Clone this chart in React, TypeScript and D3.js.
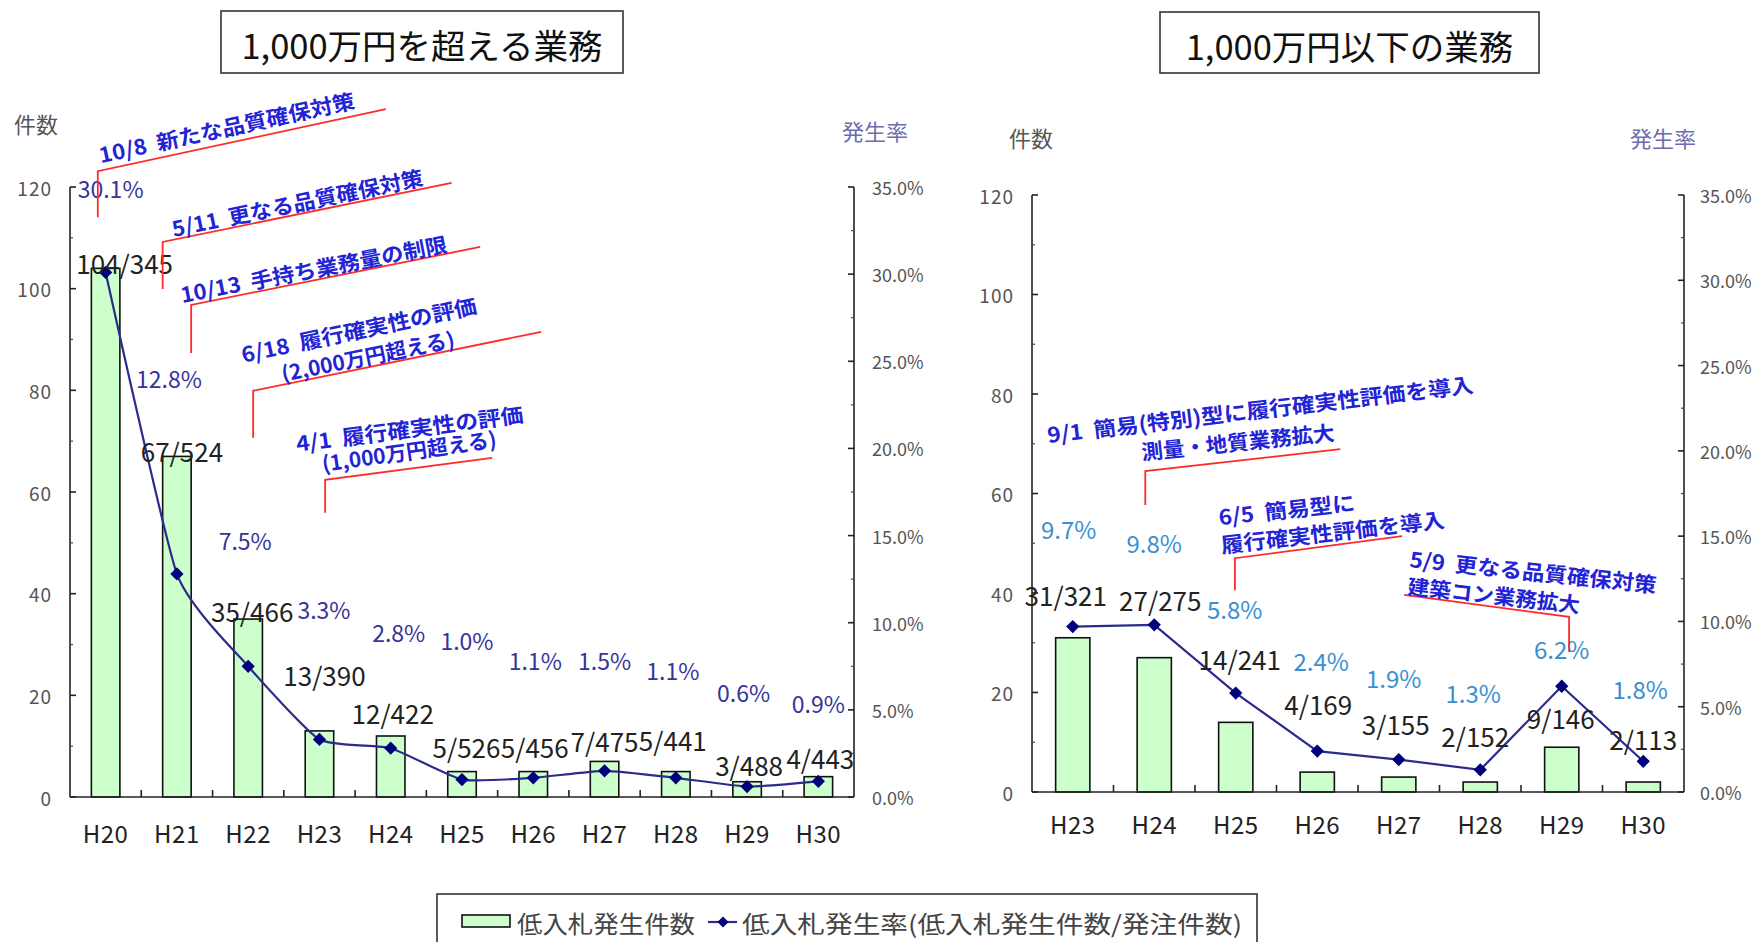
import React from 'react';
import * as d3 from 'd3';

// ---------- data ----------
const leftCats = ['H20', 'H21', 'H22', 'H23', 'H24', 'H25', 'H26', 'H27', 'H28', 'H29', 'H30'];
const leftCounts = [104, 67, 35, 13, 12, 5, 5, 7, 5, 3, 4];
const leftOrders = [345, 524, 466, 390, 422, 526, 456, 475, 441, 488, 443];
const leftRates = [30.1, 12.8, 7.5, 3.3, 2.8, 1.0, 1.1, 1.5, 1.1, 0.6, 0.9];

const rightCats = ['H23', 'H24', 'H25', 'H26', 'H27', 'H28', 'H29', 'H30'];
const rightCounts = [31, 27, 14, 4, 3, 2, 9, 2];
const rightOrders = [321, 275, 241, 169, 155, 152, 146, 113];
const rightRates = [9.7, 9.8, 5.8, 2.4, 1.9, 1.3, 6.2, 1.8];

const countTicks = [0, 20, 40, 60, 80, 100, 120];
const rateTicks = [0, 5, 10, 15, 20, 25, 30, 35];

const titleLeft = '1,000万円を超える業務';
const titleRight = '1,000万円以下の業務';
const legendBar = '低入札発生件数';
const legendLine = '低入札発生率(低入札発生件数/発注件数)';

// ---------- layout (label offsets in px, not data) ----------
const leftCountOffsets = [[19, -6], [5, -6], [4, -9], [5, -56], [2, -24], [4.5, -25], [1.5, -25], [0, -21], [-3, -32], [2, -17], [2, -19]];
const leftRateOffsets = [[5, -84], [-8, -196], [-3, -126], [4.5, -130], [8, -116], [5, -140], [2, -118], [0, -111], [-3, -108], [-3.5, -94.5], [0, -78]];
const rightCountOffsets = [[-7, -43], [6, -58], [4, -64], [1, -69], [-3, -54], [-5, -47], [-1, -30], [0, -44]];
const rightRateOffsets = [[-4, -98], [0, -82], [-1, -85], [4, -91], [-5, -82], [-7, -77], [0, -38], [-3, -73]];

type AnnText = { t: string; ox: number; oy: number; len: number; angle: number };
type Ann = { cat: number; frac: number; cornerV: number; vLen: number; dx: number; dy: number; texts: AnnText[] };

const leftAnns: Ann[] = [
  { cat: 0, frac: 0.39, cornerV: 123.1, vLen: 46, dx: 288, dy: -62, texts: [{ t: '10/8  新たな品質確保対策', ox: 3, oy: -8, len: 261, angle: -12.2 }] },
  { cat: 1, frac: 0.30, cornerV: 109.2, vLen: 47, dx: 289, dy: -59, texts: [{ t: '5/11  更なる品質確保対策', ox: 11, oy: -5, len: 256, angle: -11.7 }] },
  { cat: 1, frac: 0.70, cornerV: 96.8, vLen: 48, dx: 289, dy: -58, texts: [{ t: '10/13  手持ち業務量の制限', ox: -9, oy: -2, len: 271, angle: -10.9 }] },
  { cat: 2, frac: 0.57, cornerV: 79.9, vLen: 47, dx: 288, dy: -59, texts: [
    { t: '6/18  履行確実性の評価', ox: -10, oy: -28, len: 240, angle: -12 },
    { t: '(2,000万円超える)', ox: 30, oy: -9, len: 176, angle: -11.5 }] },
  { cat: 3, frac: 0.58, cornerV: 62.4, vLen: 33, dx: 167, dy: -22, texts: [
    { t: '4/1  履行確実性の評価', ox: -28, oy: -28, len: 229, angle: -7.5 },
    { t: '(1,000万円超える)', ox: -2, oy: -8, len: 176, angle: -8.2 }] },
];

const rightAnns: Ann[] = [
  { cat: 1, frac: 0.39, cornerV: 64.5, vLen: 34, dx: 195, dy: -22, texts: [
    { t: '9/1  簡易(特別)型に履行確実性評価を導入', ox: -97, oy: -28, len: 429, angle: -6.8 },
    { t: '測量・地質業務拡大', ox: -3, oy: -11, len: 194, angle: -5.9 }] },
  { cat: 2, frac: 0.49, cornerV: 47.0, vLen: 32, dx: 167, dy: -22, texts: [
    { t: '6/5  簡易型に', ox: -15.5, oy: -33, len: 137, angle: -6.3 },
    { t: '履行確実性評価を導入', ox: -13, oy: -5, len: 225, angle: -6.6 }] },
  { cat: 6, frac: 0.59, cornerV: 35.2, vLen: 35, dx: -165, dy: -22, texts: [
    { t: '5/9  更なる品質確保対策', ox: -160, oy: -50, len: 248, angle: 6 },
    { t: '建築コン業務拡大', ox: -162, oy: -23, len: 173, angle: 6.3 }] },
];

const FONT = "'Noto Sans CJK JP', 'Noto Sans', sans-serif";
const BAR_FILL = '#ccffcc';
const LINE_COLOR = '#2b2b8c';
const MARK_COLOR = '#00007a';
const ANN_BLUE = '#2323d6';
const ANN_RED = '#ff2a2a';

type PanelProps = {
  cats: string[]; counts: number[]; orders: number[]; rates: number[];
  x0: number; x1: number; y0: number; y1: number;
  smooth: boolean; rateColor: string; rateFont: number;
  countOffsets: number[][]; rateOffsets: number[][];
  barRatio: number; anns: Ann[];
  title: string; titleBox: [number, number, number, number];
  kensuPos: [number, number]; ratePos: [number, number];
  xLabelDy: number; rightLabelGap: number;
};

function Panel(p: PanelProps) {
  const x = d3.scaleBand<string>().domain(p.cats).range([p.x0, p.x1]);
  const yC = d3.scaleLinear().domain([0, 120]).range([p.y0, p.y1]);
  const yR = d3.scaleLinear().domain([0, 35]).range([p.y0, p.y1]);
  const bw = x.bandwidth();
  const cx = (c: string) => (x(c) as number) + bw / 2;

  const pts: [number, number][] = p.cats.map((c, i) => [cx(c), yR(p.rates[i])]);
  const line = d3.line<[number, number]>().curve(p.smooth ? d3.curveCardinal.tension(0.5) : d3.curveLinear);
  const diamond = d3.symbol().type(d3.symbolSquare).size(88)();

  const minorC = d3.range(10, 120, 20);
  const minorR = d3.range(2.5, 35, 5);

  const [tx, ty, tw, th] = p.titleBox;

  return (
    <g>
      {/* title */}
      <rect x={tx} y={ty} width={tw} height={th} fill="#fff" stroke="#333" strokeWidth={1.6} />
      <text x={tx + tw / 2} y={ty + th / 2 + 2} textAnchor="middle" dominantBaseline="central" fontSize={34.5} fontWeight={400} fill="#111" fontFamily={FONT}>{p.title}</text>

      {/* axis titles */}
      <text x={p.kensuPos[0]} y={p.kensuPos[1]} dominantBaseline="central" fontSize={22} fill="#555" fontFamily={FONT}>件数</text>
      <text x={p.ratePos[0]} y={p.ratePos[1]} dominantBaseline="central" fontSize={22} fill="#6c6cae" fontFamily={FONT}>発生率</text>

      {/* bars */}
      {p.cats.map((c, i) => (
        <rect key={c} x={cx(c) - (bw * p.barRatio) / 2} y={yC(p.counts[i])} width={bw * p.barRatio} height={p.y0 - yC(p.counts[i])}
          fill={BAR_FILL} stroke="#111" strokeWidth={1.6} />
      ))}

      {/* line */}
      <path d={line(pts) || ''} fill="none" stroke={LINE_COLOR} strokeWidth={2.2} />
      {pts.map((pt, i) => (
        <path key={i} d={diamond || ''} transform={`translate(${pt[0]},${pt[1]}) rotate(45)`} fill={MARK_COLOR} />
      ))}

      {/* count labels */}
      {p.cats.map((c, i) => (
        <text key={'c' + c} x={cx(c) + p.countOffsets[i][0]} y={yC(p.counts[i]) + p.countOffsets[i][1]} textAnchor="middle" dominantBaseline="central"
          fontSize={26} fill="#222" fontFamily={FONT}>{`${p.counts[i]}/${p.orders[i]}`}</text>
      ))}
      {/* rate labels */}
      {p.cats.map((c, i) => (
        <text key={'r' + c} x={cx(c) + p.rateOffsets[i][0]} y={yR(p.rates[i]) + p.rateOffsets[i][1]} textAnchor="middle" dominantBaseline="central"
          fontSize={p.rateFont} fill={p.rateColor} fontFamily={FONT}>{`${p.rates[i].toFixed(1)}%`}</text>
      ))}

      {/* axes */}
      <line x1={p.x0} x2={p.x0} y1={p.y0} y2={yC(120)} stroke="#222" strokeWidth={1.6} />
      <line x1={p.x1} x2={p.x1} y1={p.y0} y2={yR(35)} stroke="#222" strokeWidth={1.6} />
      <line x1={p.x0} x2={p.x1} y1={p.y0} y2={p.y0} stroke="#222" strokeWidth={1.6} />
      {countTicks.map(t => (
        <g key={'ct' + t}>
          <line x1={p.x0} x2={p.x0 + 6} y1={yC(t)} y2={yC(t)} stroke="#222" strokeWidth={1.6} />
          <text x={p.x0 - 18} y={yC(t)} textAnchor="end" dominantBaseline="central" fontSize={19} letterSpacing={1} fill="#555" fontFamily={FONT}>{t}</text>
        </g>
      ))}
      {minorC.map(t => <line key={'mc' + t} x1={p.x0} x2={p.x0 + 3} y1={yC(t)} y2={yC(t)} stroke="#444" strokeWidth={1.2} />)}
      {rateTicks.map(t => (
        <g key={'rt' + t}>
          <line x1={p.x1 - 6} x2={p.x1} y1={yR(t)} y2={yR(t)} stroke="#222" strokeWidth={1.6} />
          <text x={p.x1 + p.rightLabelGap} y={yR(t)} dominantBaseline="central" fontSize={18} fill="#555" fontFamily={FONT}>{`${t.toFixed(1)}%`}</text>
        </g>
      ))}
      {minorR.map(t => <line key={'mr' + t} x1={p.x1 - 3} x2={p.x1} y1={yR(t)} y2={yR(t)} stroke="#444" strokeWidth={1.2} />)}
      {p.cats.slice(1).map(c => (
        <line key={'xt' + c} x1={x(c) as number} x2={x(c) as number} y1={p.y0} y2={p.y0 - 7} stroke="#222" strokeWidth={1.6} />
      ))}
      {p.cats.map(c => (
        <text key={'xl' + c} x={cx(c)} y={p.y0 + p.xLabelDy} textAnchor="middle" dominantBaseline="central" fontSize={24} letterSpacing={0.5} fill="#222" fontFamily={FONT}>{c}</text>
      ))}

      {/* annotations */}
      {p.anns.map((a, i) => {
        const ax = (x(p.cats[a.cat]) as number) + a.frac * bw;
        const ay = yC(a.cornerV);
        return (
          <g key={'ann' + i}>
            <polyline points={`${ax},${ay + a.vLen} ${ax},${ay} ${ax + a.dx},${ay + a.dy}`} fill="none" stroke={ANN_RED} strokeWidth={1.8} />
            {a.texts.map((t, j) => (
              <text key={j} transform={`translate(${ax + t.ox},${ay + t.oy}) rotate(${t.angle})`} fontSize={21} fontWeight={700}
                fill={ANN_BLUE} fontFamily={FONT} textLength={t.len} lengthAdjust="spacingAndGlyphs" style={{ whiteSpace: 'pre' }}>{t.t}</text>
            ))}
          </g>
        );
      })}
    </g>
  );
}

export default function App() {
  return (
    <svg width={1755} height={942} style={{ position: 'absolute', left: 0, top: 0, background: '#fff' }}>
      <rect x={0} y={0} width={1755} height={942} fill="#fff" />
      <Panel cats={leftCats} counts={leftCounts} orders={leftOrders} rates={leftRates}
        x0={70} x1={854} y0={797} y1={187} smooth={true} rateColor="#34349a" rateFont={23}
        countOffsets={leftCountOffsets} rateOffsets={leftRateOffsets} barRatio={0.4} anns={leftAnns}
        title={titleLeft} titleBox={[221, 11, 402, 62]} kensuPos={[14, 123]} ratePos={[842, 130]}
        xLabelDy={35} rightLabelGap={18} />
      <Panel cats={rightCats} counts={rightCounts} orders={rightOrders} rates={rightRates}
        x0={1032} x1={1684} y0={792} y1={195} smooth={false} rateColor="#3a8fd2" rateFont={24}
        countOffsets={rightCountOffsets} rateOffsets={rightRateOffsets} barRatio={0.42} anns={rightAnns}
        title={titleRight} titleBox={[1160, 12, 379, 61]} kensuPos={[1009, 137]} ratePos={[1630, 137]}
        xLabelDy={31} rightLabelGap={16} />

      {/* legend */}
      <rect x={437} y={894} width={820} height={70} fill="#fff" stroke="#333" strokeWidth={1.6} />
      <rect x={462} y={915} width={48} height={12} fill={BAR_FILL} stroke="#111" strokeWidth={1.6} />
      <text x={517} y={922} dominantBaseline="central" fontSize={24} fill="#444" fontFamily={FONT} textLength={178} lengthAdjust="spacingAndGlyphs">{legendBar}</text>
      <line x1={708} x2={737} y1={922} y2={922} stroke={LINE_COLOR} strokeWidth={2.2} />
      <path d={d3.symbol().type(d3.symbolSquare).size(60)() || ''} transform="translate(723,922) rotate(45)" fill={MARK_COLOR} />
      <text x={742} y={922} dominantBaseline="central" fontSize={24} fill="#444" fontFamily={FONT} textLength={500} lengthAdjust="spacingAndGlyphs">{legendLine}</text>
    </svg>
  );
}
